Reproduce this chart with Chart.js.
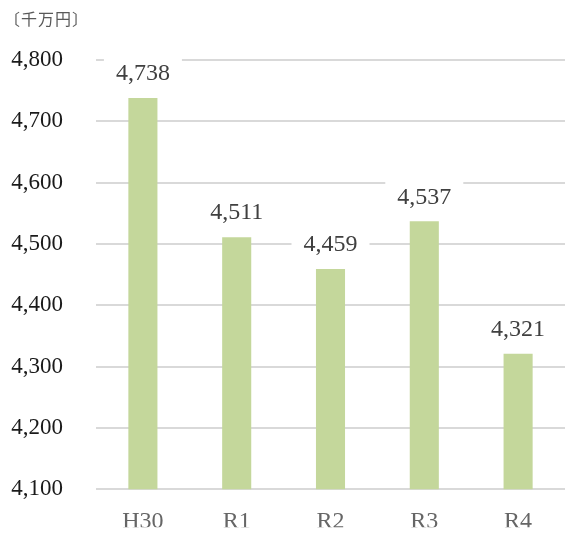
<!DOCTYPE html>
<html>
<head>
<meta charset="utf-8">
<script src="https://cdn.jsdelivr.net/npm/chart.js@4"></script>
<style>
  html, body { margin: 0; padding: 0; background: #fff; overflow: hidden; }
  #wrap { position: relative; width: 565px; height: 536px; }
  #unit { position: absolute; left: 4px; top: 6px; font: 16px "Noto Sans CJK JP", sans-serif; color: #595959; letter-spacing: 1px; }
</style>
</head>
<body>
<div id="wrap">
  <canvas id="barChart" width="565" height="536"></canvas>
  <div id="unit">〔千万円〕</div>
</div>
<script>
        // Data
        const years = ['H30', 'R1', 'R2', 'R3', 'R4'];
        const amounts = [4738, 4511, 4459, 4537, 4321];
        const yMin = 4100, yMax = 4800, yStep = 100;

        const serif = '"Liberation Serif", "DejaVu Serif", serif';

        // Value labels above bars, on a white box that breaks the grid lines
        const valueLabels = {
            id: 'valueLabels',
            afterDatasetsDraw(chart) {
                const ctx = chart.ctx;
                const meta = chart.getDatasetMeta(0);
                ctx.save();
                ctx.font = '24px ' + serif;
                ctx.textAlign = 'center';
                ctx.textBaseline = 'middle';
                meta.data.forEach((bar, i) => {
                    const y = bar.y - 24;
                    ctx.fillStyle = '#fff';
                    ctx.fillRect(bar.x - 39, y - 18, 78, 36);
                    ctx.fillStyle = '#404040';
                    ctx.fillText(amounts[i].toLocaleString('en-US'), bar.x, y);
                });
                ctx.restore();
            }
        };

        new Chart(document.getElementById('barChart'), {
            type: 'bar',
            data: {
                labels: years,
                datasets: [{
                    data: amounts,
                    backgroundColor: '#c4d79b',
                    categoryPercentage: 1,
                    barPercentage: 0.31,
                }]
            },
            options: {
                responsive: false,
                animation: false,
                layout: { padding: { top: 60, right: 0, left: 0, bottom: 0 } },
                scales: {
                    x: {
                        grid: { display: false },
                        border: { display: false },
                        ticks: { color: '#666666', font: { family: serif, size: 24 }, padding: 10 },
                        afterFit: s => { s.height = 38; }
                    },
                    y: {
                        min: yMin, max: yMax,
                        ticks: {
                            stepSize: yStep,
                            color: '#1a1a1a',
                            font: { family: serif, size: 23 },
                            padding: 33,
                            callback: v => v.toLocaleString('en-US')
                        },
                        grid: { color: '#d9d9d9', lineWidth: 2, drawTicks: false },
                        border: { display: false },
                        afterFit: s => { s.width = 96; }
                    }
                },
                plugins: { legend: { display: false }, tooltip: { enabled: false } }
            },
            plugins: [valueLabels]
        });
</script>
</body>
</html>
